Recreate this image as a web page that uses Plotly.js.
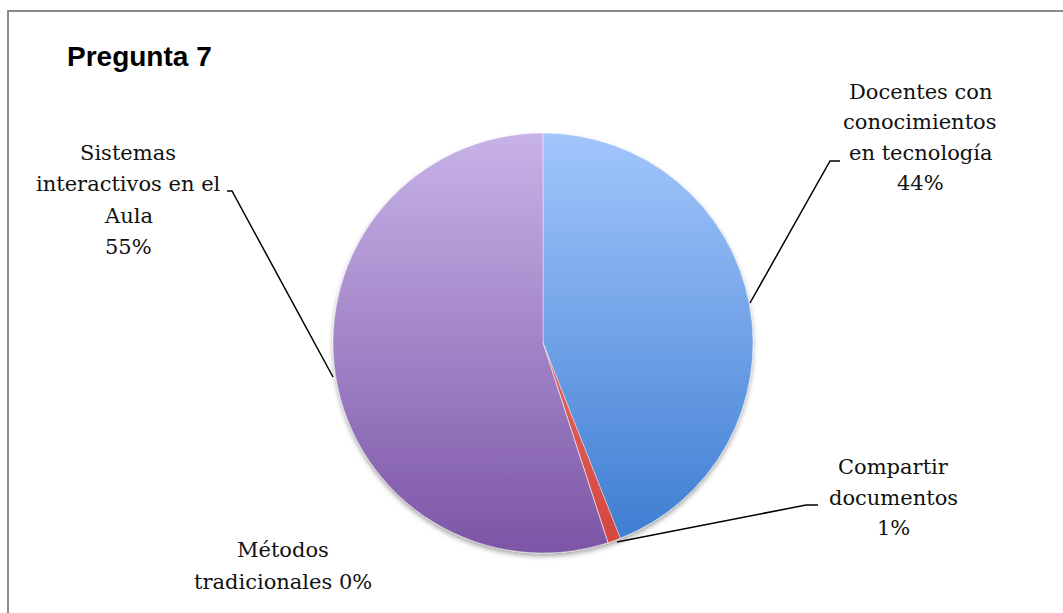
<!DOCTYPE html>
<html>
<head>
<meta charset="utf-8">
<script src="https://cdn.plot.ly/plotly-3.0.1.min.js"></script>
<style>
html,body{margin:0;padding:0;background:#fff;}
#chart{width:1063px;height:613px;}
</style>
</head>
<body>
<div id="chart"></div>
<script>
// ---- data ----
const categories = ["Docentes con<br>conocimientos<br>en tecnología", "Compartir<br>documentos", "Métodos<br>tradicionales", "Sistemas<br>interactivos en el<br>Aula"];
const values = [44, 1, 0, 55];
const pctSeparators = ["<br>", "<br>", " ", "<br>"];
const chartTitle = "Pregunta 7";

// ---- layout constants (pixels) ----
const W = 1063, H = 613;
const cx = 543, cy = 343, R = 210;
const px = x => x / W;
const py = y => 1 - y / H;

const total = values.reduce((a, b) => a + b, 0);
const labelTexts = categories.map((c, i) => c + pctSeparators[i] + Math.round(values[i] / total * 100) + "%");

// label block positions: center x, first-line y, line spacing
const labelPos = [
  {x: 920, y: 92, dy: 30.4},
  {x: 893, y: 467, dy: 30.5},
  {x: 283, y: 550, dy: 32},
  {x: 128, y: 153, dy: 31.3}
];
// leader lines (pixel points)
const leaders = [
  [[750, 303], [830, 161], [840, 161]],
  [[617, 542], [806, 505], [818, 505]],
  null,
  [[333, 377], [232, 191], [227, 191]]
];

const annotations = [];
labelTexts.forEach((t, i) => {
  const lines = t.split("<br>");
  const p = labelPos[i];
  lines.forEach((ln, k) => {
    annotations.push({
      xref: "paper", yref: "paper", x: px(p.x), y: py(p.y + k * p.dy),
      xanchor: "center", yanchor: "middle", showarrow: false,
      text: ln, font: {family: "DejaVu Serif", size: 21, color: "#111"}
    });
  });
});
annotations.push({
  xref: "paper", yref: "paper", x: px(65), y: py(57), xanchor: "left", yanchor: "middle",
  showarrow: false, text: "<b>" + chartTitle + "</b>",
  font: {family: "Liberation Sans, Arial", size: 28, color: "#000"}
});

const shapes = [{
  type: "rect", xref: "paper", yref: "paper",
  x0: px(8), y0: py(11), x1: px(1075), y1: py(630),
  line: {color: "#8c8c8c", width: 2}, fillcolor: "rgba(0,0,0,0)", layer: "below"
}];
leaders.forEach(l => {
  if (!l) return;
  let d = "M" + l.map(p => px(p[0]) + "," + py(p[1])).join(" L");
  shapes.push({type: "path", xref: "paper", yref: "paper", path: d, line: {color: "#000", width: 1.5}});
});

const trace = {
  type: "pie",
  labels: categories,
  values: values,
  sort: false,
  direction: "clockwise",
  rotation: 0,
  textinfo: "none",
  hoverinfo: "label+percent",
  marker: {colors: ["#6fa2ea", "#dc524b", "#a0d060", "#a48bcf"], line: {color: "rgba(255,255,255,0.5)", width: 0.8}},
  domain: {x: [px(cx - R), px(cx + R)], y: [py(cy + R), py(cy - R)]},
  showlegend: false
};

const layout = {
  width: W, height: H,
  margin: {l: 0, r: 0, t: 0, b: 0},
  paper_bgcolor: "#fff", plot_bgcolor: "#fff",
  showlegend: false,
  annotations: annotations,
  shapes: shapes
};

Plotly.newPlot("chart", [trace], layout, {displayModeBar: false, staticPlot: true}).then(gd => {
  const svg = gd.querySelector("svg.main-svg");
  const ns = "http://www.w3.org/2000/svg";
  let defs = svg.querySelector("defs");
  if (!defs) { defs = document.createElementNS(ns, "defs"); svg.insertBefore(defs, svg.firstChild); }
  const grads = [
    ["#a2c6fc", "#3b7bd0"],
    ["#ee8a84", "#d4443d"],
    ["#c8e08a", "#8cb94c"],
    ["#c8b3e8", "#7c55a6"]
  ];
  grads.forEach((g, i) => {
    const lg = document.createElementNS(ns, "linearGradient");
    lg.setAttribute("id", "sliceGrad" + i);
    lg.setAttribute("gradientUnits", "objectBoundingBox");
    lg.setAttribute("x1", 0); lg.setAttribute("y1", 0);
    lg.setAttribute("x2", 0); lg.setAttribute("y2", 1);
    defs.appendChild(lg);
    lg._colors = g;
  });
  const f = document.createElementNS(ns, "filter");
  f.setAttribute("id", "pieShadow");
  f.setAttribute("x", "-10%"); f.setAttribute("y", "-10%");
  f.setAttribute("width", "120%"); f.setAttribute("height", "125%");
  const ds = document.createElementNS(ns, "feDropShadow");
  ds.setAttribute("dx", 0); ds.setAttribute("dy", 3);
  ds.setAttribute("stdDeviation", 2.5);
  ds.setAttribute("flood-color", "#000"); ds.setAttribute("flood-opacity", 0.35);
  f.appendChild(ds);
  defs.appendChild(f);

  // use user-space gradient spanning the full pie height, in the coordinate system of the slice paths
  const slices = gd.querySelectorAll("g.slice");
  slices.forEach(s => {
    const idx = s.__data__ && s.__data__.i !== undefined ? s.__data__.i : null;
    const path = s.querySelector("path.surface");
    if (!path || idx === null) return;
    const bb = path.getBBox();
    const lg = defs.querySelector("#sliceGrad" + idx);
    // pie top/bottom in the path's own coordinates
    const ctm = path.getCTM();
    const offY = ctm ? ctm.f : 0;
    const top = (cy - R) - offY, bottom = (cy + R) - offY;
    lg.setAttribute("gradientUnits", "userSpaceOnUse");
    lg.setAttribute("x1", 0); lg.setAttribute("x2", 0);
    lg.setAttribute("y1", top); lg.setAttribute("y2", bottom);
    [[0, lg._colors[0]], [1, lg._colors[1]]].forEach(st0 => {
      const st = document.createElementNS(ns, "stop");
      st.setAttribute("offset", st0[0]); st.setAttribute("stop-color", st0[1]);
      lg.appendChild(st);
    });
    path.style.fill = "url(#sliceGrad" + idx + ")";
  });
  const trGroup = gd.querySelector("g.trace");
  if (trGroup) trGroup.setAttribute("filter", "url(#pieShadow)");
});
</script>
</body>
</html>
